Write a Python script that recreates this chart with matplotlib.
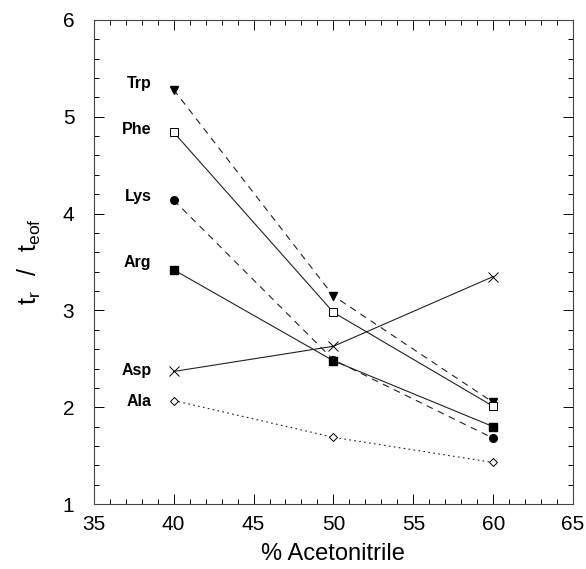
import numpy as np
import matplotlib.pyplot as plt
from matplotlib.ticker import MultipleLocator

plt.rcParams['font.family'] = ['Liberation Sans', 'DejaVu Sans']
plt.rcParams['mathtext.default'] = 'regular'

# % acetonitrile and t_r/t_eof per amino acid
acn = [40, 50, 60]
trp = [5.28, 3.15, 2.05]
phe = [4.84, 2.98, 2.01]
lys = [4.14, 2.49, 1.68]
arg = [3.42, 2.48, 1.80]
asp = [2.37, 2.63, 3.35]
ala = [2.07, 1.69, 1.43]

fig = plt.figure(figsize=(5.86, 5.69), dpi=100)
ax = fig.add_axes([0.160, 0.114, 0.818, 0.851])

lc = '#222222'
ax.plot(acn, trp, ls=(0, (6, 5)), color=lc, lw=0.8, marker='v', ms=5.5, mfc='black', mec='black')
ax.plot(acn, phe, ls='-', color=lc, lw=0.8, marker='s', ms=6, mfc='white', mec='black', mew=0.7)
ax.plot(acn, lys, ls=(0, (6, 5)), color=lc, lw=0.8, marker='o', ms=5.5, mfc='black', mec='black')
ax.plot(acn, arg, ls='-', color=lc, lw=0.8, marker='s', ms=5.5, mfc='black', mec='black')
ax.plot(acn, asp, ls='-', color=lc, lw=0.8, marker='x', ms=6.5, mec='black', mew=0.7)
ax.plot(acn, ala, ls=(0, (1.5, 3)), color=lc, lw=0.8, marker='D', ms=4, mfc='white', mec='black', mew=0.7)

# series labels next to the first point
names = ['Trp', 'Phe', 'Lys', 'Arg', 'Asp', 'Ala']
label_y = [5.34, 4.87, 4.18, 3.50, 2.38, 2.06]
for name, yy in zip(names, label_y):
    ax.text(38.6, yy, name, ha='right', va='center', fontsize=11.5, fontweight='bold')

ax.set_xlim(35, 65)
ax.set_ylim(1, 6)
ax.xaxis.set_major_locator(MultipleLocator(5))
ax.xaxis.set_minor_locator(MultipleLocator(1))
ax.yaxis.set_major_locator(MultipleLocator(1))
ax.yaxis.set_minor_locator(MultipleLocator(0.2))
ax.tick_params(which='both', direction='in', top=True, right=True, width=0.7)
ax.tick_params(which='major', length=7, labelsize=15)
ax.tick_params(axis='x', which='major', pad=8)
ax.tick_params(axis='y', which='major', pad=14)
ax.tick_params(which='minor', length=3.5)
for s in ax.spines.values():
    s.set_linewidth(0.8)
    s.set_color('#444444')

ax.set_xlabel('% Acetonitrile', fontsize=17, labelpad=6)
ax.set_ylabel(r'$t_r\ \ /\ \ t_{eof}$', fontsize=18, labelpad=14)

fig.savefig('out.png', dpi=100)
